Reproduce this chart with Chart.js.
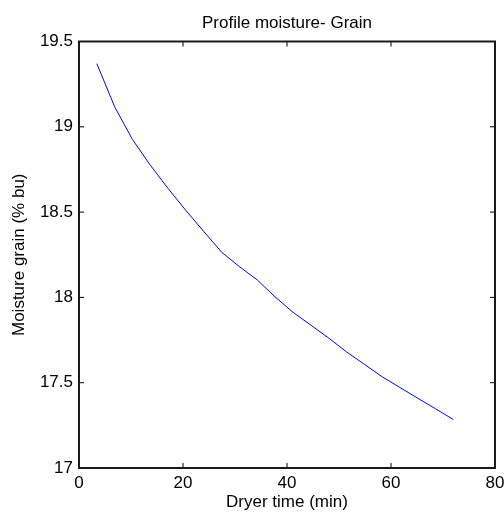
<!DOCTYPE html>
<html lang="en">

<head>
    <meta charset="UTF-8">
    <title>Profile moisture- Grain</title>
    <script src="https://cdn.jsdelivr.net/npm/chart.js"></script>
    <style>
        body { margin: 0; background: #fff; }
        #wrap { width: 504px; height: 514px; }
    </style>
</head>

<body>
    <div id="wrap"><canvas id="myChart"></canvas></div>
    <script>
        // dryer time (min) and grain moisture (% bu)
        const dryerTime = [3.43, 6.86, 10.29, 13.71, 17.14, 20.57, 24.0, 27.43, 30.86, 34.29, 37.71,
            41.14, 44.57, 48.0, 51.43, 54.86, 58.29, 61.71, 65.14, 68.57, 72.0];
        const moisture = [19.37, 19.117, 18.925, 18.775, 18.638, 18.509, 18.386, 18.265, 18.18, 18.102, 18.003,
            17.913, 17.838, 17.762, 17.681, 17.608, 17.535, 17.472, 17.409, 17.347, 17.284];
        const xTicks = [0, 20, 40, 60, 80];
        const yTicks = [17, 17.5, 18, 18.5, 19, 19.5];
        const chartTitle = 'Profile moisture- Grain';

        const points = dryerTime.map((t, i) => ({ x: t, y: moisture[i] }));
        const font = { family: 'Liberation Sans, Arial, sans-serif', size: 17, weight: 'normal' };

        // matlab style box with inward ticks, title centred over the axes
        const boxPlugin = {
            id: 'box',
            afterDraw(chart) {
                const ctx = chart.ctx;
                const a = chart.chartArea;
                const xs = chart.scales.x, ys = chart.scales.y;
                const len = 5;
                ctx.save();
                ctx.strokeStyle = '#000';
                ctx.lineWidth = 1;
                ctx.beginPath();
                xTicks.forEach(v => {
                    const px = xs.getPixelForValue(v);
                    ctx.moveTo(px, a.bottom); ctx.lineTo(px, a.bottom - len);
                    ctx.moveTo(px, a.top); ctx.lineTo(px, a.top + len);
                });
                yTicks.forEach(v => {
                    const py = ys.getPixelForValue(v);
                    ctx.moveTo(a.left, py); ctx.lineTo(a.left + len, py);
                    ctx.moveTo(a.right, py); ctx.lineTo(a.right - len, py);
                });
                ctx.stroke();
                ctx.lineWidth = 2;
                ctx.strokeStyle = '#1a1a1a';
                ctx.strokeRect(a.left, a.top, a.right - a.left, a.bottom - a.top);

                ctx.fillStyle = '#000';
                ctx.font = '17px "Liberation Sans", Arial, sans-serif';
                ctx.textAlign = 'center';
                ctx.textBaseline = 'alphabetic';
                ctx.fillText(chartTitle, (a.left + a.right) / 2, 28);
                ctx.restore();
            }
        };

        new Chart(document.getElementById('myChart'), {
            type: 'scatter',
            data: {
                datasets: [{
                    data: points,
                    showLine: true,
                    borderColor: '#0000ff',
                    borderWidth: 1,
                    pointRadius: 0,
                    tension: 0
                }]
            },
            options: {
                responsive: true,
                maintainAspectRatio: false,
                animation: false,
                layout: { padding: { left: 0, right: 9, top: 41.5, bottom: 0 } },
                plugins: {
                    legend: { display: false },
                    tooltip: { enabled: false },
                    title: { display: false }
                },
                scales: {
                    x: {
                        type: 'linear',
                        min: 0,
                        max: 80,
                        afterFit(s) { s.height = 46; s.paddingLeft = 0; s.paddingRight = 0; },
                        afterBuildTicks(s) { s.ticks = xTicks.map(v => ({ value: v })); },
                        grid: { display: false, drawTicks: false },
                        border: { display: false },
                        ticks: { color: '#000', font, padding: 5, maxRotation: 0 },
                        title: { display: true, text: 'Dryer time (min)', color: '#000', font, padding: { top: 1.3, bottom: 1.3 } }
                    },
                    y: {
                        type: 'linear',
                        min: 17,
                        max: 19.5,
                        afterFit(s) { s.width = 79; s.paddingTop = 0; s.paddingBottom = 0; },
                        afterBuildTicks(s) { s.ticks = yTicks.map(v => ({ value: v })); },
                        grid: { display: false, drawTicks: false },
                        border: { display: false },
                        ticks: { color: '#000', font, padding: 6, callback: v => String(v) },
                        title: { display: true, text: 'Moisture grain (% bu)', color: '#000', font, padding: { top: 8.8, bottom: 8.8 } }
                    }
                }
            },
            plugins: [boxPlugin]
        });
    </script>
</body>

</html>
